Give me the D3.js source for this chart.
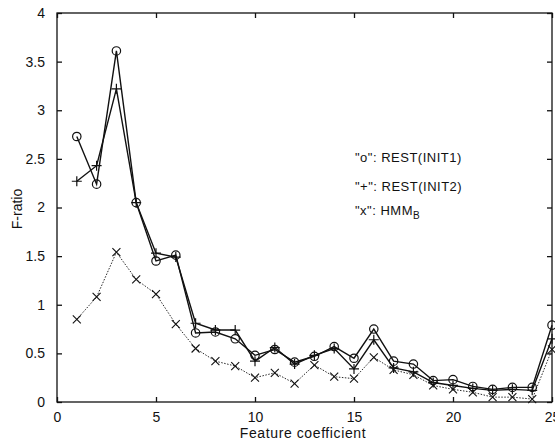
<!DOCTYPE html>
<html>
<head>
<meta charset="utf-8">
<script src="https://cdn.jsdelivr.net/npm/d3@7"></script>
<style>
  body { margin: 0; background: #fff; }
  svg { display: block; font-family: "Liberation Sans", Arial, sans-serif; }
</style>
</head>
<body>
<div id="chart"></div>
<script>
// feature coefficient index 1..25
const coeffs = d3.range(1, 26);
const restInit1 = [2.73, 2.24, 3.61, 2.05, 1.45, 1.51, 0.71, 0.72, 0.65, 0.48, 0.54, 0.41, 0.47, 0.57, 0.45,
                   0.75, 0.42, 0.39, 0.22, 0.23, 0.16, 0.13, 0.15, 0.15, 0.79];
const restInit2 = [2.27, 2.43, 3.22, 2.05, 1.53, 1.49, 0.81, 0.74, 0.74, 0.42, 0.56, 0.39, 0.48, 0.55, 0.34,
                   0.64, 0.35, 0.31, 0.20, 0.17, 0.14, 0.12, 0.13, 0.12, 0.65];
const hmmB = [0.85, 1.08, 1.54, 1.26, 1.11, 0.80, 0.55, 0.42, 0.37, 0.25, 0.30, 0.19, 0.38, 0.26, 0.24,
              0.46, 0.33, 0.28, 0.17, 0.13, 0.10, 0.05, 0.05, 0.03, 0.54];
const xTicks = [0, 5, 10, 15, 20, 25];
const yTicks = [0, 0.5, 1, 1.5, 2, 2.5, 3, 3.5, 4];

const W = 555, H = 442;
const margin = { top: 13, right: 3, bottom: 40, left: 57 },
    width = W - margin.left - margin.right,
    height = H - margin.top - margin.bottom;

const svg = d3.select("#chart").append("svg")
    .attr("width", W)
    .attr("height", H);
const g = svg.append("g")
    .attr("transform", "translate(" + margin.left + "," + margin.top + ")");

const x = d3.scaleLinear().domain([0, 25]).range([0, width]);
const y = d3.scaleLinear().domain([0, 4]).range([height, 0]);
const ink = "#111";

// frame
g.append("rect")
    .attr("width", width).attr("height", height)
    .attr("fill", "none").attr("stroke", ink).attr("stroke-width", 1.3);

// axes with inward ticks
const xAxis = g.append("g").attr("transform", "translate(0," + height + ")")
    .call(d3.axisBottom(x).tickValues(xTicks).tickSize(-5).tickPadding(10).tickFormat(d3.format("d")));
const xTop = g.append("g")
    .call(d3.axisTop(x).tickValues(xTicks).tickSize(-5).tickFormat(""));
const yAxis = g.append("g")
    .call(d3.axisLeft(y).tickValues(yTicks).tickSize(-5).tickPadding(12).tickFormat(d => d3.format("~g")(d)));
const yRight = g.append("g").attr("transform", "translate(" + width + ",0)")
    .call(d3.axisRight(y).tickValues(yTicks).tickSize(-5).tickFormat(""));

[xAxis, xTop, yAxis, yRight].forEach(a => {
  a.select(".domain").remove();
  a.selectAll(".tick line").attr("stroke", ink).attr("stroke-width", 1.3);
  a.selectAll("text").attr("fill", ink).attr("font-size", 14)
    .attr("font-family", "Liberation Sans, Arial, sans-serif");
});

// axis titles
svg.append("text")
    .attr("x", 303).attr("y", 438)
    .attr("text-anchor", "middle").attr("font-size", 14).attr("fill", ink)
    .attr("letter-spacing", 0.6)
    .text("Feature coefficient");
svg.append("text")
    .attr("transform", "translate(22,209) rotate(-90)")
    .attr("text-anchor", "middle").attr("font-size", 14).attr("fill", ink)
    .text("F-ratio");

const line = d3.line()
    .x((d, i) => x(coeffs[i]))
    .y(d => y(d));

g.append("path").datum(hmmB)
    .attr("d", line).attr("fill", "none").attr("stroke", ink)
    .attr("stroke-width", 0.9).attr("stroke-dasharray", "1.5,1.5");
g.append("path").datum(restInit2)
    .attr("d", line).attr("fill", "none").attr("stroke", ink).attr("stroke-width", 1.4);
g.append("path").datum(restInit1)
    .attr("d", line).attr("fill", "none").attr("stroke", ink).attr("stroke-width", 1.4);

// markers
g.selectAll(".mo").data(restInit1).enter().append("circle")
    .attr("cx", (d, i) => x(coeffs[i])).attr("cy", d => y(d))
    .attr("r", 4.2).attr("fill", "none").attr("stroke", ink).attr("stroke-width", 1.2);

g.selectAll(".mp").data(restInit2).enter().append("path")
    .attr("transform", (d, i) => "translate(" + x(coeffs[i]) + "," + y(d) + ")")
    .attr("d", "M-5,0H5M0,-5V5").attr("stroke", ink).attr("stroke-width", 1.2);

g.selectAll(".mx").data(hmmB).enter().append("path")
    .attr("transform", (d, i) => "translate(" + x(coeffs[i]) + "," + y(d) + ")")
    .attr("d", "M-4,-4L4,4M-4,4L4,-4").attr("stroke", ink).attr("stroke-width", 1.1);

// legend text
const legend = svg.append("g").attr("font-size", 13).attr("fill", ink).attr("letter-spacing", 0.5);
legend.append("text").attr("x", 355).attr("y", 162).text("\"o\": REST(INIT1)");
legend.append("text").attr("x", 355).attr("y", 191).text("\"+\": REST(INIT2)");
const t3 = legend.append("text").attr("x", 355).attr("y", 215);
t3.append("tspan").text("\"x\": HMM");
t3.append("tspan").attr("dy", 4).attr("font-size", 10).text("B");
</script>
</body>
</html>
